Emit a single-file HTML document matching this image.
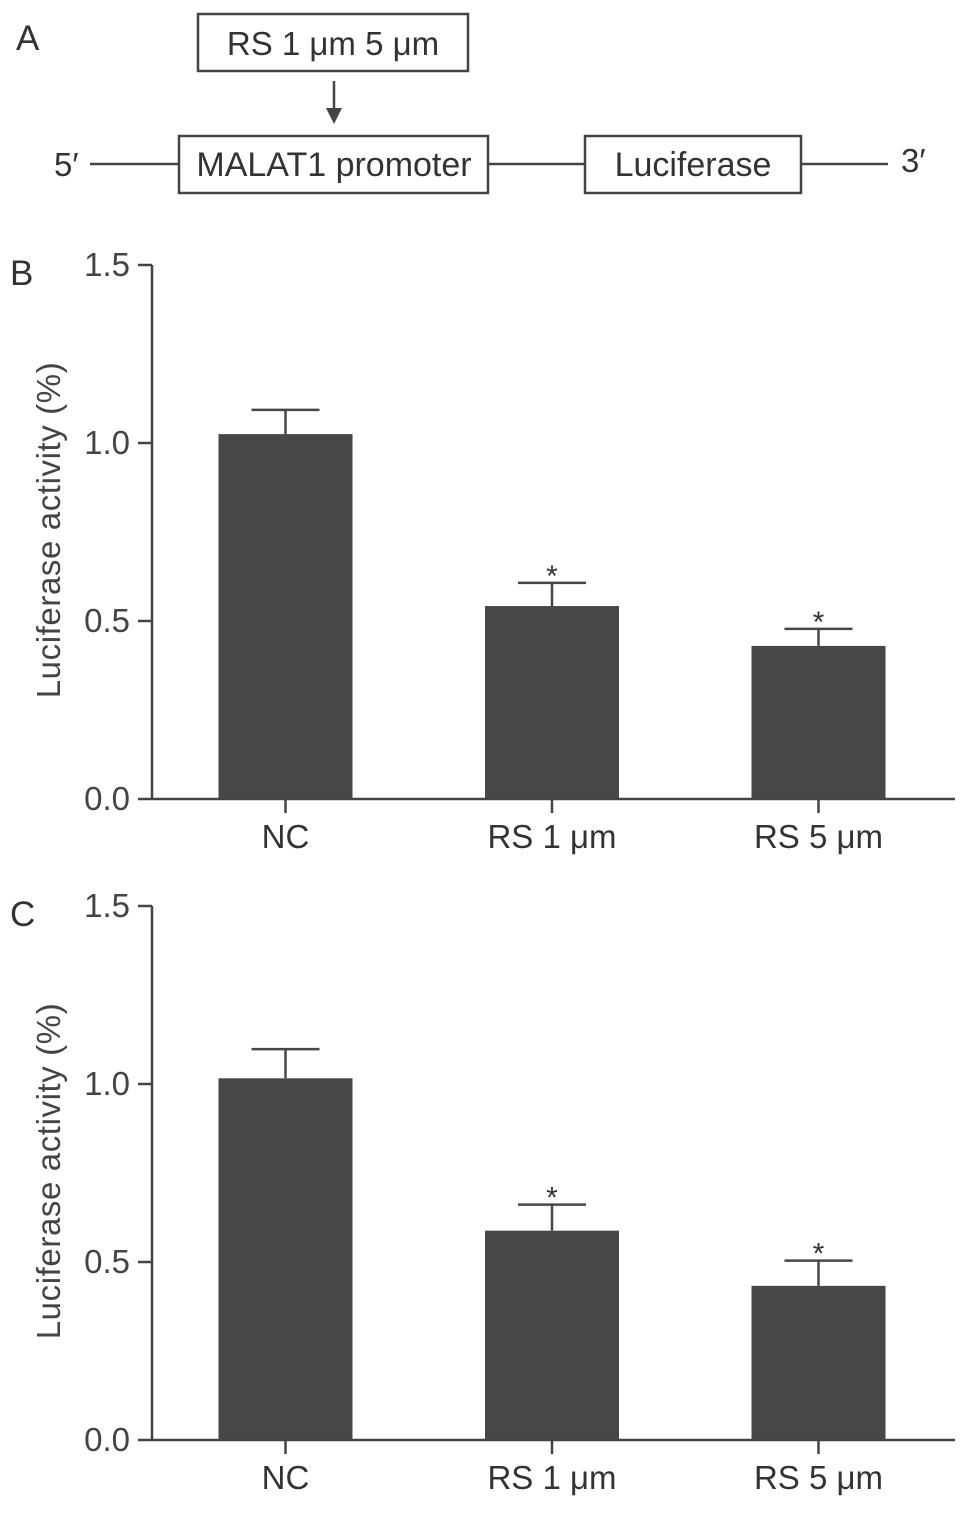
<!DOCTYPE html>
<html><head><meta charset="utf-8"><style>
html,body{margin:0;padding:0;background:#fff;}
svg{display:block;font-family:"Liberation Sans",Arial,sans-serif;}
</style></head><body>
<svg id="fig" width="969" height="1515" viewBox="0 0 969 1515">
<g fill="none" stroke="#444" stroke-width="2.5">
  <text x="16" y="50" font-size="35" fill="#333" stroke="none">A</text>
  <rect x="198" y="14" width="270" height="57"/>
  <text x="333" y="55" font-size="33" fill="#333" stroke="none" text-anchor="middle">RS 1 μm 5 μm</text>
  <line x1="334" y1="81" x2="334" y2="112"/>
  <polygon points="326,108 342,108 334,124" fill="#444" stroke="none"/>
  <text x="54" y="176" font-size="33" fill="#333" stroke="none">5′</text>
  <line x1="90" y1="164" x2="179" y2="164"/>
  <rect x="179" y="136" width="309" height="57"/>
  <text x="334" y="176" font-size="34" fill="#333" stroke="none" text-anchor="middle">MALAT1 promoter</text>
  <line x1="488" y1="164" x2="585" y2="164"/>
  <rect x="585" y="136" width="216" height="57"/>
  <text x="693" y="176" font-size="34" fill="#333" stroke="none" text-anchor="middle">Luciferase</text>
  <line x1="801" y1="164" x2="888" y2="164"/>
  <text x="901" y="172" font-size="33" fill="#333" stroke="none">3′</text>
</g>
<g id="chartB"></g>
<g id="chartC"></g>
</svg>
<script>
const categories = ["NC", "RS 1 μm", "RS 5 μm"];
const valuesB = [1.025, 0.542, 0.43];
const errorsB = [0.068, 0.065, 0.048];
const sigB = [false, true, true];
const valuesC = [1.016, 0.588, 0.433];
const errorsC = [0.082, 0.073, 0.071];
const sigC = [false, true, true];
const yTicks = [0.0, 0.5, 1.0, 1.5];
const yTickLabels = ["0.0", "0.5", "1.0", "1.5"];

const NS = "http://www.w3.org/2000/svg";
function mk(parent, tag, attrs, text) {
  const e = document.createElementNS(NS, tag);
  for (const k in attrs) e.setAttribute(k, attrs[k]);
  if (text !== undefined) e.textContent = text;
  parent.appendChild(e);
  return e;
}
function drawChart(gid, letter, top, bottom, vals, errs, sig) {
  const g = document.getElementById(gid);
  const axX = 152, xEnd = 955;
  const yMax = 1.5;
  const y = v => bottom - (v / yMax) * (bottom - top);
  const centers = [285.5, 552, 818.5];
  const bw = 134;
  const xc = i => centers[i];
  let e;
  e = mk(g, "text", {x: 10, y: top + 20, "font-size": 35, fill: "#333"}, letter);
  
  
  vals.forEach((v, i) => {
    e = mk(g, "rect", {x: xc(i) - bw / 2, y: y(v), width: bw, height: bottom - y(v), fill: "#474747"});
    
    
    const et = y(v + errs[i]);
    e = mk(g, "path", {d: `M${xc(i)} ${y(v)}V${et}M${xc(i) - 34} ${et}H${xc(i) + 34}`, stroke: "#474747", "stroke-width": 2.5, fill: "none"});
    
    
    if (sig[i]) {
      e = mk(g, "text", {x: xc(i), y: et + 3, "font-size": 30, "text-anchor": "middle", fill: "#333"}, "*");
      
      
    }
  });
  e = mk(g, "line", {x1: axX, y1: top, x2: axX, y2: bottom, stroke: "#444", "stroke-width": 2.5});
  
  
  e = mk(g, "line", {x1: axX, y1: bottom, x2: xEnd, y2: bottom, stroke: "#444", "stroke-width": 2.5});
  
  
  yTicks.forEach((t, i) => {
    e = mk(g, "line", {x1: axX - 14, y1: y(t), x2: axX, y2: y(t), stroke: "#444", "stroke-width": 2.5});
    
    
    e = mk(g, "text", {x: 130, y: y(t) + 11, "font-size": 33, "text-anchor": "end", fill: "#444"}, yTickLabels[i]);
    
    
  });
  categories.forEach((c, i) => {
    e = mk(g, "line", {x1: xc(i), y1: bottom, x2: xc(i), y2: bottom + 14, stroke: "#444", "stroke-width": 2.5});
    
    
    e = mk(g, "text", {x: xc(i), y: bottom + 49, "font-size": 33, "text-anchor": "middle", fill: "#333"}, c);
    
    
  });
  const cy = (top + bottom) / 2 - 2;
  e = mk(g, "text", {x: 60, y: cy, "font-size": 33, "text-anchor": "middle", fill: "#444", "letter-spacing": "0.6", transform: `rotate(-90 60 ${cy})`}, "Luciferase activity (%)");
  
  
}
drawChart("chartB", "B", 265, 799, valuesB, errorsB, sigB);
drawChart("chartC", "C", 906, 1440, valuesC, errorsC, sigC);
</script>
</body></html>
